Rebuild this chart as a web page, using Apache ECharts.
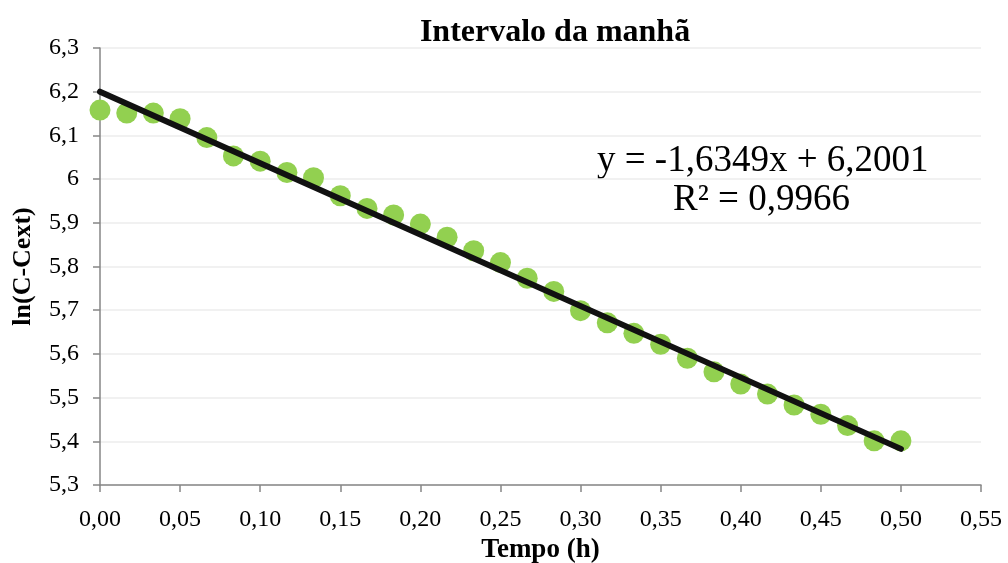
<!DOCTYPE html>
<html>
<head>
<meta charset="utf-8">
<title>Intervalo da manhã</title>
<script src="https://cdn.jsdelivr.net/npm/echarts@6/dist/echarts.min.js"></script>
<style>
  html, body { margin: 0; padding: 0; background: #fff; }
  #chart { width: 1008px; height: 563px; }
</style>
</head>
<body>
<div id="chart"></div>
<script>
  // tempo (h), um ponto por minuto
  var tempo = [0, 0.0167, 0.0333, 0.05, 0.0667, 0.0833, 0.1, 0.1167, 0.1333, 0.15,
               0.1667, 0.1833, 0.2, 0.2167, 0.2333, 0.25, 0.2667, 0.2833, 0.3, 0.3167,
               0.3333, 0.35, 0.3667, 0.3833, 0.4, 0.4167, 0.4333, 0.45, 0.4667, 0.4833, 0.5];
  // ln(C-Cext)
  var lnC = [6.158, 6.151, 6.151, 6.138, 6.095, 6.053, 6.041, 6.015, 6.003, 5.962,
             5.933, 5.918, 5.897, 5.867, 5.836, 5.809, 5.773, 5.743, 5.699, 5.671,
             5.647, 5.622, 5.590, 5.559, 5.531, 5.508, 5.483, 5.462, 5.436, 5.401, 5.401];

  // linha de tendência (Excel)
  var slope = -1.6349;
  var intercept = 6.2001;
  var r2 = 0.9966;
  var trendX = [0, 0.5];

  var pontos = tempo.map(function (t, i) { return [t, lnC[i]]; });
  var tendencia = trendX.map(function (t) { return [t, slope * t + intercept]; });

  function virgula(s) { return String(s).replace('.', ','); }

  var serif = 'Liberation Serif, Times New Roman, serif';
  var myChart = echarts.init(document.getElementById('chart'));

  var option = {
    animation: false,
    title: {
      text: 'Intervalo da manhã',
      left: 550, top: 12, textAlign: 'center',
      textStyle: { fontFamily: serif, fontSize: 32, fontWeight: 'bold', color: '#000' }
    },
    grid: { left: 100, right: 27, top: 48, bottom: 78, outerBoundsMode: 'none' },
    xAxis: {
      type: 'value', min: 0, max: 0.55, interval: 0.05,
      name: 'Tempo (h)', nameLocation: 'middle', nameGap: 51,
      nameTextStyle: { fontFamily: serif, fontSize: 27, fontWeight: 'bold', color: '#000' },
      axisLine: { lineStyle: { color: '#868686', width: 1.5 } },
      axisTick: { show: true, length: 7, lineStyle: { color: '#868686', width: 1.5 } },
      splitLine: { show: false },
      axisLabel: {
        fontFamily: serif, fontSize: 24, color: '#000', margin: 23,
        formatter: function (v) { return virgula(v.toFixed(2)); }
      }
    },
    yAxis: {
      type: 'value', min: 5.3, max: 6.3, interval: 0.1,
      name: 'ln(C-Cext)', nameLocation: 'middle', nameGap: 64, nameRotate: 90,
      nameTextStyle: { fontFamily: serif, fontSize: 26, fontWeight: 'bold', color: '#000' },
      axisLine: { show: true, lineStyle: { color: '#868686', width: 1.5 } },
      axisTick: { show: true, length: 7, lineStyle: { color: '#868686', width: 1.5 } },
      splitLine: { show: true, lineStyle: { color: '#ececec', width: 1.5 } },
      axisLabel: {
        fontFamily: serif, fontSize: 24, color: '#000', margin: 21,
        formatter: function (v) { return virgula(parseFloat(v.toFixed(1))); }
      }
    },
    series: [
      {
        name: 'ln(C-Cext)', type: 'scatter', data: pontos,
        symbol: 'circle', symbolSize: 21,
        itemStyle: { color: '#92d050', opacity: 1 }, z: 2
      },
      {
        name: 'Linear', type: 'line', data: tendencia,
        showSymbol: false, symbol: 'none',
        lineStyle: { color: '#111', width: 6, cap: 'round' }, z: 3
      }
    ],
    graphic: [
      {
        type: 'text', left: 597, top: 143,
        style: {
          text: 'y = ' + virgula(slope) + 'x + ' + virgula(intercept),
          font: '37px ' + serif, fill: '#000'
        }
      },
      {
        type: 'text', left: 673, top: 182,
        style: { text: 'R² = ' + virgula(r2), font: '37px ' + serif, fill: '#000' }
      }
    ]
  };

  myChart.setOption(option);
</script>
</body>
</html>
